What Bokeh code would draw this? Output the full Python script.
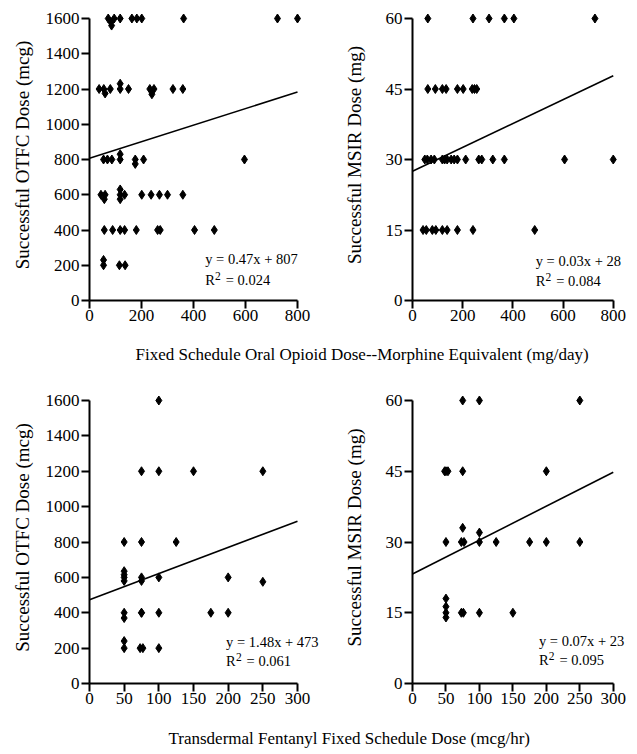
from bokeh.plotting import figure
from bokeh.models import Range1d, FixedTicker
from bokeh.layouts import column, row
from bokeh.embed import file_html
from bokeh.resources import INLINE
from bokeh.core.properties import value

FONT = "Liberation Serif"

# ---------------- data ----------------
# Panel A: OTFC dose (mcg) vs fixed schedule oral opioid (mg/day)
oral_otfc_x = [72, 95, 82, 85, 118, 163, 182, 201, 362, 723, 800,
               37, 55, 80, 60, 118, 118, 150, 232, 248, 240, 321, 359,
               54, 69, 86, 118, 118, 176, 176, 208, 596,
               44, 60, 57, 118, 118, 118, 135, 201, 237, 269, 300, 359,
               57, 89, 118, 135, 180, 262, 272, 404, 480,
               54, 54, 115, 137]
oral_otfc_y = [1600, 1600, 1580, 1560, 1600, 1600, 1600, 1600, 1600, 1600, 1600,
               1200, 1200, 1200, 1175, 1230, 1200, 1200, 1200, 1200, 1170, 1200, 1200,
               800, 800, 800, 830, 800, 800, 775, 800, 800,
               600, 600, 575, 630, 600, 575, 600, 600, 600, 600, 600, 600,
               400, 400, 400, 400, 400, 400, 400, 400, 400,
               230, 200, 200, 200]

# Panel B: MSIR dose (mg) vs fixed schedule oral opioid (mg/day)
oral_msir_x = [61, 241, 305, 366, 404, 727,
               61, 91, 119, 134, 179, 202, 238, 247, 256,
               49, 59, 74, 87, 119, 128, 138, 154, 166, 179, 212, 264, 276, 320, 366, 606, 800,
               42, 55, 79, 93, 119, 138, 179, 241, 487]
oral_msir_y = [60, 60, 60, 60, 60, 60,
               45, 45, 45, 45, 45, 45, 45, 45, 45,
               30, 30, 30, 30, 30, 30, 30, 30, 30, 30, 30, 30, 30, 30, 30, 30, 30,
               15, 15, 15, 15, 15, 15, 15, 15, 15]

# Panel C: OTFC dose (mcg) vs transdermal fentanyl (mcg/hr)
tdf_otfc_x = [100, 75, 100, 150, 250, 50, 75, 125,
              50, 50, 50, 50, 75, 75, 100, 200, 250,
              50, 50, 75, 75, 100, 175, 200,
              50, 50, 73, 77, 100]
tdf_otfc_y = [1600, 1200, 1200, 1200, 1200, 800, 800, 800,
              635, 615, 600, 580, 600, 580, 600, 600, 575,
              400, 370, 400, 400, 400, 400, 400,
              240, 200, 200, 200, 200]

# Panel D: MSIR dose (mg) vs transdermal fentanyl (mcg/hr)
tdf_msir_x = [75, 100, 250, 48, 50, 53, 75, 200, 75, 100,
              50, 73, 77, 100, 125, 175, 200, 250,
              50, 50, 50, 50, 73, 76, 100, 150]
tdf_msir_y = [60, 60, 60, 45, 45, 45, 45, 45, 33, 32,
              30, 30, 30, 30, 30, 30, 30, 30,
              18, 16.3, 15, 14, 15, 15, 15, 15]

# regression fits (slope, intercept) and their printed labels
fit_slopes = [0.47, 0.0254, 1.48, 0.072]
fit_intercepts = [807, 27.5, 473, 23.2]
eq_labels = ["y = 0.47x + 807", "y = 0.03x + 28", "y = 1.48x + 473", "y = 0.07x + 23"]
r2_labels = ["= 0.024", "= 0.084", "= 0.061", "= 0.095"]

oral_ticks = [0, 200, 400, 600, 800]
tdf_ticks = [0, 50, 100, 150, 200, 250, 300]
otfc_ticks = [0, 200, 400, 600, 800, 1000, 1200, 1400, 1600]
msir_ticks = [0, 15, 30, 45, 60]

title_top = "Fixed Schedule Oral Opioid Dose--Morphine Equivalent (mg/day)"
title_bottom = "Transdermal Fentanyl  Fixed Schedule Dose (mcg/hr)"
label_otfc = "Successful OTFC Dose (mcg)"
label_msir = "Successful MSIR Dose (mg)"


def panel(xs, ys, k, x_ticks, y_ticks, ylabel, width, height,
          b_left, b_right, b_top, b_bottom, axis_w, axis_h,
          label_standoff, eq_x, eq_y1, eq_y2):
    x_max = x_ticks[-1]
    y_max = y_ticks[-1]
    frame_w = width - b_left - b_right
    frame_h = height - b_top - b_bottom
    p = figure(width=width, height=height, toolbar_location=None,
               output_backend="svg",
               x_range=Range1d(0, x_max * frame_w / axis_w),
               y_range=Range1d(0, y_max * frame_h / axis_h),
               min_border_left=b_left, min_border_right=b_right,
               min_border_top=b_top, min_border_bottom=b_bottom)
    p.outline_line_color = None
    p.grid.visible = False
    p.background_fill_color = "white"
    p.border_fill_color = "white"

    p.xaxis.ticker = FixedTicker(ticks=x_ticks)
    p.yaxis.ticker = FixedTicker(ticks=y_ticks)
    p.xaxis.bounds = (0, x_max)
    p.yaxis.bounds = (0, y_max)
    for ax in (p.xaxis, p.yaxis):
        ax.axis_line_width = 2
        ax.axis_line_color = "black"
        ax.major_tick_line_width = 2
        ax.major_tick_line_color = "black"
        ax.major_tick_in = 0
        ax.major_tick_out = 8
        ax.minor_tick_line_color = None
        ax.major_label_text_font = FONT
        ax.major_label_text_font_size = "17px"
        ax.major_label_text_color = "black"
        ax.major_label_standoff = 2
    p.xaxis.major_label_standoff = 1
    p.yaxis.axis_label = ylabel
    p.yaxis.axis_label_text_font = FONT
    p.yaxis.axis_label_text_font_size = "19px"
    p.yaxis.axis_label_text_font_style = "normal"
    p.yaxis.axis_label_text_color = "black"
    p.yaxis.axis_label_standoff = label_standoff

    p.scatter(x=xs, y=ys, marker="diamond", size=9, fill_color="black",
              line_color="black", line_width=1)

    lx = [0, x_max]
    ly = [fit_intercepts[k] + fit_slopes[k] * v for v in lx]
    p.line(x=lx, y=ly, line_color="black", line_width=1.6)

    common = dict(text_font=value(FONT), text_color="black",
                  text_baseline="middle", text_align="left")
    p.text(x=[eq_x], y=[eq_y1], text=[eq_labels[k]], text_font_size="14.5px", **common)
    p.text(x=[eq_x], y=[eq_y2], text=["R"], text_font_size="14.5px", **common)
    p.text(x=[eq_x], y=[eq_y2], text=["2"], text_font_size="11.5px",
           x_offset=9.8, y_offset=-4, **common)
    p.text(x=[eq_x], y=[eq_y2], text=[r2_labels[k]], text_font_size="14.5px",
           x_offset=20.5, **common)
    return p


def title_fig(text, h, x_left, y_center):
    t = figure(width=637, height=h, toolbar_location=None, output_backend="svg",
               x_range=Range1d(0, 637), y_range=Range1d(h, 0),
               x_axis_type=None, y_axis_type=None, min_border=0)
    t.outline_line_color = None
    t.grid.visible = False
    t.text(x=[x_left], y=[y_center], text=[text], text_font=value(FONT),
           text_font_size="17px", text_color="black",
           text_baseline="middle", text_align="left")
    return t


pA = panel(oral_otfc_x, oral_otfc_y, 0, oral_ticks, otfc_ticks, label_otfc,
           340, 330, 89, 11, 9, 30, 208, 282, 10, 445, 233, 119)
pB = panel(oral_msir_x, oral_msir_y, 1, oral_ticks, msir_ticks, label_msir,
           297, 330, 64, 3, 9, 30, 208, 282, 18, 491, 8.5, 4.1)
pC = panel(tdf_otfc_x, tdf_otfc_y, 2, tdf_ticks, otfc_ticks, label_otfc,
           340, 333, 89, 11, 11, 30, 208, 283, 10, 197, 236, 126)
pD = panel(tdf_msir_x, tdf_msir_y, 3, tdf_ticks, msir_ticks, label_msir,
           297, 333, 64, 3, 11, 30, 208, 283, 18, 189, 9.1, 4.9)

t1 = title_fig(title_top, 50, 135, 24)
t2 = title_fig(title_bottom, 41, 168, 25)

layout = column(row(pA, pB), t1, row(pC, pD), t2)

with open("out.html", "w") as f:
    f.write(file_html(layout, INLINE))
